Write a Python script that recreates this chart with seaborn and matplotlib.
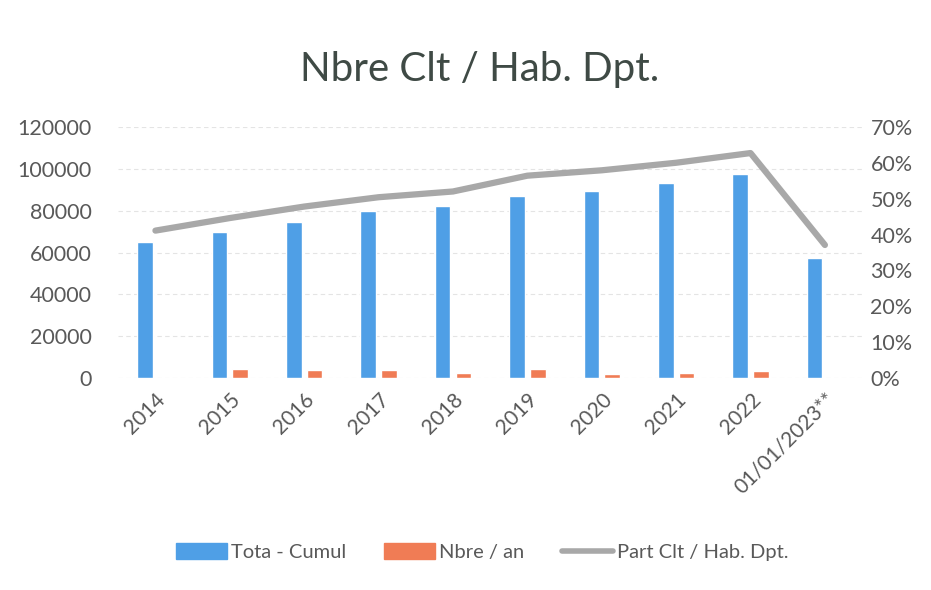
import numpy as np
import pandas as pd
import matplotlib
matplotlib.use('Agg')
import matplotlib.pyplot as plt
import seaborn as sns
from matplotlib.patches import Patch
from matplotlib.lines import Line2D
from matplotlib.ticker import PercentFormatter

# data
years = ['2014', '2015', '2016', '2017', '2018', '2019', '2020', '2021', '2022', '01/01/2023**']
total_cumul = [65000, 69700, 74600, 79700, 82300, 87200, 89600, 93100, 97500, 57300]
nbre_an = [0, 4600, 4000, 3800, 2700, 4600, 1900, 2500, 3500, 0]
part_clt = [41.1, 44.6, 47.8, 50.4, 52.0, 56.4, 57.9, 60.0, 62.7, 37.1]

blue = '#4F9FE6'
orange = '#F07C55'
grey_line = '#A8A8A8'
txt = '#595959'

df = pd.DataFrame({'annee': years, 'Tota - Cumul': total_cumul, 'Nbre / an': nbre_an})
long_df = df.melt(id_vars='annee', var_name='serie', value_name='valeur')

sns.set_style('white')
plt.rcParams['font.family'] = ['Lato', 'DejaVu Sans']

fig = plt.figure(figsize=(9.31, 5.90), dpi=100)
ax = fig.add_axes([0.127, 0.359, 0.799, 0.426])

sns.barplot(data=long_df, x='annee', y='valeur', hue='serie',
            palette=[blue, orange], width=0.56, gap=0.25,
            saturation=1, legend=False, ax=ax)

ax.set_ylim(0, 120000)
ax.set_yticks(range(0, 120001, 20000))
ax.set_xlim(-0.5, len(years) - 0.5)
ax.yaxis.grid(True, color='#E4E4E4', linewidth=0.8, linestyle=(0, (4, 3)))
ax.set_axisbelow(True)
for s in ax.spines.values():
    s.set_visible(False)
ax.set_xlabel('')
ax.set_ylabel('')
ax.tick_params(axis='y', length=0, pad=19, labelsize=15.5, labelcolor=txt)
ax.tick_params(axis='x', length=0, pad=8, labelsize=15, labelcolor=txt)
ax.set_xticks(range(len(years)))
ax.set_xticklabels(years, rotation=45, ha='right', rotation_mode='anchor')

# line on the right axis (percent)
ax2 = ax.twinx()
sns.lineplot(x=np.arange(len(years)), y=part_clt, color=grey_line,
             linewidth=4.5, ax=ax2)
ax2.set_ylim(0, 70)
ax2.set_yticks(range(0, 71, 10))
ax2.yaxis.set_major_formatter(PercentFormatter(decimals=0))
ax2.tick_params(axis='y', length=0, pad=6, labelsize=15.5, labelcolor=txt)
for s in ax2.spines.values():
    s.set_visible(False)
ax2.set_xlim(-0.5, len(years) - 0.5)

fig.text(0.515, 0.882, 'Nbre Clt / Hab. Dpt.', ha='center', va='center',
         fontsize=29, color='#3F4A45')

handles = [Patch(color=blue, label='Tota - Cumul'),
           Patch(color=orange, label='Nbre / an'),
           Line2D([0], [0], color=grey_line, linewidth=4, label='Part Clt / Hab. Dpt.')]
fig.legend(handles=handles, loc='center', bbox_to_anchor=(0.518, 0.064), ncol=3,
           frameon=False, fontsize=14.5, labelcolor=txt, handlelength=2.5,
           handleheight=0.8, columnspacing=1.9, handletextpad=0.2)

fig.savefig('out.png', dpi=100)
